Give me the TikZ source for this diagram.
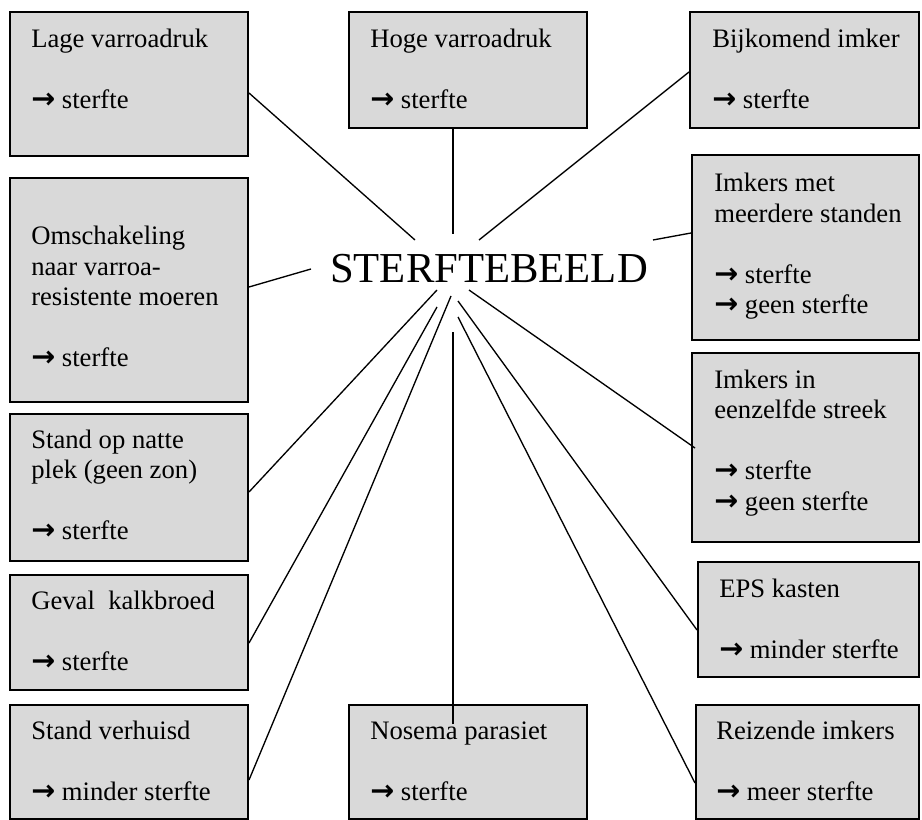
\documentclass[tikz,border=0pt]{standalone}
\usepackage{fontspec}
\setmainfont{Liberation Serif}
\newfontfamily\arrowfont{DejaVu Sans}
\usetikzlibrary{fit,calc}
\definecolor{boxgray}{RGB}{217,217,217}
\newcommand{\lines}[1]{\begin{tabular}[t]{@{}l@{}}#1\end{tabular}}
\newcommand{\arr}{{\arrowfont\bfseries\fontsize{21.5}{22.875}\selectfont →}\ }
\begin{document}
\begin{tikzpicture}[x=0.75pt,y=-0.75pt,
  box/.style={draw=black, line width=1.5pt, fill=boxgray, inner sep=0pt},
  txt/.style={anchor=base west, inner sep=0pt, font=\fontsize{20}{22.875}\selectfont},
  link/.style={line width=1pt, black}]
\useasboundingbox (0,0) rectangle (922,820);
% boxes
\node[box, fit={(10,12) (248,156)}] (lage) {};
\node[box, fit={(349,12) (587,128)}] (hoge) {};
\node[box, fit={(690,12) (919,128)}] (bijk) {};
\node[box, fit={(10,178) (248,402)}] (omsch) {};
\node[box, fit={(10,414) (248,561)}] (natte) {};
\node[box, fit={(10,575) (248,690)}] (kalk) {};
\node[box, fit={(10,705) (248,819)}] (verh) {};
\node[box, fit={(349,705) (587,819)}] (nosema) {};
\node[box, fit={(692,155) (919,340)}] (met) {};
\node[box, fit={(692,353) (919,542)}] (streek) {};
\node[box, fit={(698,562) (919,677)}] (eps) {};
\node[box, fit={(696,705) (919,819)}] (reiz) {};
% texts
\node[txt] (lageT) at (31,48) {\lines{Lage varroadruk\\ \\ \arr sterfte}};
\node[txt] (hogeT) at (370,48) {\lines{Hoge varroadruk\\ \\ \arr sterfte}};
\node[txt] (bijkT) at (712,48) {\lines{Bijkomend imker\\ \\ \arr sterfte}};
\node[txt] (omschT) at (31,245) {\lines{Omschakeling\\ naar varroa-\\ resistente moeren\\ \\ \arr sterfte}};
\node[txt] (natteT) at (31,448) {\lines{Stand op natte\\ plek (geen zon)\\ \\ \arr sterfte}};
\node[txt] (kalkT) at (31,609) {\lines{Geval\ \ kalkbroed\\ \\ \arr sterfte}};
\node[txt] (verhT) at (31,739) {\lines{Stand verhuisd\\ \\ \arr minder sterfte}};
\node[txt] (nosemaT) at (370,739) {\lines{Nosema parasiet\\ \\ \arr sterfte}};
\node[txt] (metT) at (714,192) {\lines{Imkers met\\ meerdere standen\\ \\ \arr sterfte\\ \arr geen sterfte}};
\node[txt] (streekT) at (714,388) {\lines{Imkers in\\ eenzelfde streek\\ \\ \arr sterfte\\ \arr geen sterfte}};
\node[txt] (epsT) at (719,597) {\lines{EPS kasten\\ \\ \arr minder sterfte}};
\node[txt] (reizT) at (716,739) {\lines{Reizende imkers\\ \\ \arr meer sterfte}};
% title
\node[anchor=base, inner sep=0pt, font=\fontsize{32}{38}\selectfont] (t) at (489,282) {STERFTEBEELD};
% connectors
\draw[link] ($(lage.east)+(0,9)$) -- ($(t.base)+(-74,-42)$);
\draw[link] ($(hoge.south)+(-15,0)$) -- ($(t.base)+(-36,-48)$);
\draw[link] ($(bijk.west)+(0,2)$) -- ($(t.base)+(-10,-42)$);
\draw[link] ($(omsch.east)+(0,-3)$) -- ($(t.base)+(-178,-13)$);
\draw[link] ($(met.west)+(0,-14.5)$) -- ($(t.base)+(164,-42)$);
\draw[link] ($(streek.west)+(4,0.5)$) -- ($(t.base)+(-20,8)$);
\draw[link] ($(natte.east)+(0,4.5)$) -- ($(t.base)+(-52,8)$);
\draw[link] ($(kalk.east)+(0,10.5)$) -- ($(t.base)+(-52,25)$);
\draw[link] ($(verh.east)+(0,18)$) -- ($(t.base)+(-38,14)$);
\draw[link] ($(nosema.north)+(-15,20)$) -- ($(t.base)+(-36,50)$);
\draw[link] ($(eps.west)+(0,10.5)$) -- ($(t.base)+(-31,19)$);
\draw[link] ($(reiz.west)+(0,21)$) -- ($(t.base)+(-31,35)$);
\end{tikzpicture}
\end{document}
